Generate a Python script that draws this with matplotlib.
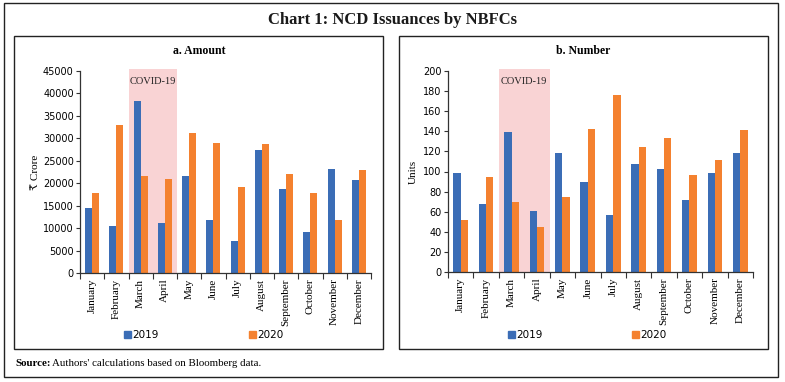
import numpy as np
import matplotlib
matplotlib.use("Agg")
import matplotlib.pyplot as plt
from matplotlib.patches import Rectangle

months = ["January", "February", "March", "April", "May", "June", "July",
          "August", "September", "October", "November", "December"]
amount_2019 = [14400, 10400, 38400, 11200, 21600, 11900, 7200, 27300, 18700, 9100, 23200, 20750]
amount_2020 = [17800, 33000, 21600, 21050, 31100, 28900, 19100, 28700, 22000, 17800, 11700, 23050]
number_2019 = [99, 68, 139, 61, 118, 90, 57, 107, 102, 72, 99, 118]
number_2020 = [52, 95, 70, 45, 75, 142, 176, 124, 133, 97, 111, 141]
covid_months = ["March", "April"]

BLUE = "#3b6db6"
ORANGE = "#f4812f"
PINK = "#f9d3d4"
serif = ["Liberation Serif", "DejaVu Serif", "DejaVu Sans"]
sans = ["DejaVu Sans"]

W, H = 785, 382
fig = plt.figure(figsize=(W / 100, H / 100), dpi=100)


def fx(px):
    return px / W


def fy(py):
    return 1 - py / H


# outer frame and panel frames
fig.patches.append(Rectangle((fx(4), fy(377)), fx(774), 374 / H, transform=fig.transFigure,
                             fill=False, lw=1.0, ec="#222222"))
for left in (14, 399):
    fig.patches.append(Rectangle((fx(left), fy(349)), fx(369), 313 / H, transform=fig.transFigure,
                                 fill=False, lw=1.0, ec="#222222"))

fig.text(0.5, fy(20), "Chart 1: NCD Issuances by NBFCs", ha="center", va="center",
         fontsize=12, fontweight="bold", family=serif, color="#1a1a1a")
fig.text(fx(15), fy(363), "Source:", ha="left", va="center", fontsize=7.8,
         fontweight="bold", family=serif)
fig.text(fx(52), fy(363), "Authors' calculations based on Bloomberg data.", ha="left",
         va="center", fontsize=7.8, family=serif)


def panel(rect, v19, v20, ymax, step, title, title_x, ylabel, ylabel_x, leg_x):
    ax = fig.add_axes(rect)
    x = np.arange(len(months))
    w = 0.29
    ax.bar(x - w / 2, v19, w, color=BLUE, zorder=2)
    ax.bar(x + w / 2, v20, w, color=ORANGE, zorder=2)
    i0 = months.index(covid_months[0])
    i1 = months.index(covid_months[-1])
    ax.axvspan(i0 - 0.5, i1 + 0.5, ymin=0, ymax=1.008, color=PINK, lw=0, zorder=1, clip_on=False)
    ax.text((i0 + i1) / 2, ymax * 0.95, "COVID-19", ha="center", va="center",
            fontsize=7.5, family=serif, color="#222222")
    ax.set_xlim(-0.5, len(months) - 0.5)
    ax.set_ylim(0, ymax)
    ax.set_yticks(np.arange(0, ymax + 1, step))
    ax.set_xticks(x)
    ax.set_xticklabels(months, rotation=90, fontsize=8, family=serif)
    ax.set_xticks(np.arange(-0.5, len(months), 1), minor=True)
    ax.tick_params(axis="x", which="major", length=0, pad=4)
    ax.tick_params(axis="x", which="minor", length=4, width=0.8, color="#333333")
    ax.tick_params(axis="y", length=3, width=0.8, labelsize=7, pad=1.5, color="#333333")
    for lab in ax.get_yticklabels():
        lab.set_family(sans)
    for s in ("top", "right"):
        ax.spines[s].set_visible(False)
    for s in ("left", "bottom"):
        ax.spines[s].set_linewidth(0.9)
        ax.spines[s].set_color("#333333")
    fig.text(fx(title_x), fy(51), title, ha="center", va="center", fontsize=8.5,
             fontweight="bold", family=serif)
    fig.text(fx(ylabel_x), rect[1] + rect[3] * 0.5, ylabel, rotation=90, ha="center",
             va="center", fontsize=8, family=serif)
    for xx, col, lab in ((leg_x[0], BLUE, "2019"), (leg_x[1], ORANGE, "2020")):
        fig.patches.append(Rectangle((fx(xx), fy(338)), fx(7), 7 / H, transform=fig.transFigure,
                                     color=col))
        fig.text(fx(xx + 8), fy(334.5), lab, ha="left", va="center", fontsize=7.5, family=sans)
    return ax


panel([fx(80), fy(273), fx(291), 202 / H], amount_2019, amount_2020, 45000, 5000,
      "a. Amount", 199, "₹ Crore", 35, (124, 249))
panel([fx(448), fy(272), fx(305), 201 / H], number_2019, number_2020, 200, 20,
      "b. Number", 583, "Units", 413, (508, 632))

fig.savefig("out.png", dpi=100)
